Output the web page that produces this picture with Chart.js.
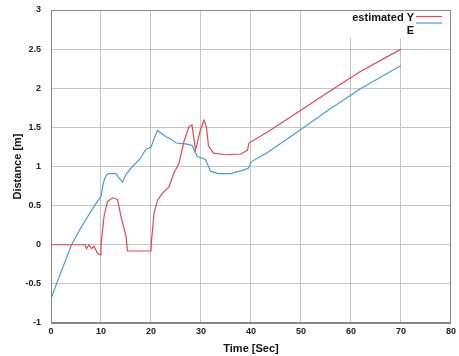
<!DOCTYPE html>
<html>
<head>
<meta charset="utf-8">
<script src="https://cdn.jsdelivr.net/npm/chart.js@4/dist/chart.umd.min.js"></script>
<style>
  html, body { margin: 0; padding: 0; background: #fff; }
  #wrap { width: 459px; height: 356px; }
</style>
</head>
<body>
<div id="wrap"><canvas id="chart" width="459" height="356"></canvas></div>
<script>
// estimated Y (red)
const estTime = [0, 6.8, 7.1, 7.6, 8.1, 8.6, 9.3, 9.9, 10, 10.6, 11.3, 12.3, 13.3, 14, 15, 15.3, 20, 20.1, 20.6, 21.3, 22.3, 23.6, 24.6, 25.6, 26.6, 27.6, 28.2, 28.9, 29.9, 30.6, 31.1, 31.5, 32.5, 35, 38, 39.3, 39.6, 43.3, 48.6, 55.2, 61.8, 70];
const estY = [0, 0, -0.05, 0, -0.05, -0.02, -0.11, -0.13, 0, 0.36, 0.55, 0.6, 0.58, 0.36, 0.11, -0.08, -0.08, 0.05, 0.40, 0.57, 0.66, 0.74, 0.92, 1.04, 1.32, 1.51, 1.53, 1.21, 1.47, 1.59, 1.5, 1.26, 1.17, 1.15, 1.16, 1.21, 1.30, 1.44, 1.66, 1.94, 2.21, 2.5];

// E (blue)
const eTime = [0, 1.1, 4.1, 6, 8.7, 10, 10.5, 11, 11.5, 13, 13.5, 14.3, 15, 16.3, 17.7, 19, 20, 21, 21.3, 23, 24.3, 25, 26.9, 28.2, 29.2, 30.9, 31.9, 33.5, 36, 38.8, 39.5, 40, 43.3, 49.9, 55.2, 61.8, 70];
const eY = [-0.69, -0.5, 0, 0.22, 0.5, 0.62, 0.8, 0.88, 0.91, 0.91, 0.86, 0.8, 0.9, 1.0, 1.09, 1.22, 1.25, 1.42, 1.46, 1.38, 1.34, 1.3, 1.29, 1.27, 1.13, 1.09, 0.94, 0.91, 0.91, 0.96, 0.98, 1.06, 1.18, 1.47, 1.71, 1.99, 2.29];

const seriesLabels = ['estimated Y', 'E'];

function toPoints(xs, ys) {
    return xs.map((x, i) => ({ x: x, y: ys[i] }));
}

const tickFont = { family: 'Liberation Sans, Arial, sans-serif', size: 9, weight: 'bold' };
const titleFont = { family: 'Liberation Sans, Arial, sans-serif', size: 11, weight: 'bold' };

// MATLAB-like legend: text right-aligned, line sample on the right, white box
const legendBox = {
    id: 'legendBox',
    afterDatasetsDraw(chart) {
        const { ctx, chartArea } = chart;
        ctx.save();
        ctx.fillStyle = '#fff';
        ctx.fillRect(chartArea.right - 113, chartArea.top + 1, 112, 27);
        ctx.font = 'bold 11px Liberation Sans, Arial, sans-serif';
        ctx.textAlign = 'right';
        ctx.textBaseline = 'middle';
        const textY = [18, 30.5];
        const lineY = [16.5, 23];
        chart.data.datasets.forEach((ds, i) => {
            ctx.fillStyle = '#111';
            ctx.fillText(ds.label, chartArea.right - 37, textY[i]);
            ctx.strokeStyle = ds.borderColor;
            ctx.lineWidth = 1.2;
            ctx.beginPath();
            ctx.moveTo(chartArea.right - 35, lineY[i]);
            ctx.lineTo(chartArea.right - 9, lineY[i]);
            ctx.stroke();
        });
        ctx.restore();
    },
    afterDraw(chart) {
        const { ctx, chartArea } = chart;
        ctx.save();
        ctx.strokeStyle = '#888';
        ctx.lineWidth = 1;
        ctx.strokeRect(chartArea.left + 0.5, chartArea.top + 0.5,
            chartArea.right - chartArea.left - 1, chartArea.bottom - chartArea.top - 1);
        ctx.restore();
    }
};

const ctx = document.getElementById('chart').getContext('2d');

new Chart(ctx, {
    type: 'line',
    data: {
        datasets: [
            {
                label: seriesLabels[0],
                data: toPoints(estTime, estY),
                borderColor: '#e5474f',
                borderWidth: 1.2,
                pointRadius: 0,
                tension: 0,
                fill: false
            },
            {
                label: seriesLabels[1],
                data: toPoints(eTime, eY),
                borderColor: '#4a9ae0',
                borderWidth: 1.2,
                pointRadius: 0,
                tension: 0,
                fill: false
            }
        ]
    },
    options: {
        responsive: false,
        animation: false,
        layout: { padding: { top: 10, right: 6, left: 0, bottom: 0 } },
        scales: {
            x: {
                type: 'linear',
                min: 0,
                max: 80,
                afterFit: (scale) => { scale.height = 33; },
                ticks: { stepSize: 10, font: tickFont, color: '#222', padding: 3, maxRotation: 0 },
                grid: { color: '#c6c6c6', drawTicks: false },
                border: { color: '#888' },
                title: { display: true, text: 'Time [Sec]', font: titleFont, color: '#111', padding: { top: 4, bottom: 0 } }
            },
            y: {
                min: -1,
                max: 3,
                afterFit: (scale) => {
                    scale.width = 51;
                    scale.paddingTop = 0;
                    scale.paddingBottom = 0;
                },
                ticks: {
                    stepSize: 0.5, font: tickFont, color: '#222', padding: 10,
                    callback: (value) => String(value)
                },
                grid: { color: '#c6c6c6', drawTicks: false },
                border: { color: '#888' },
                title: { display: true, text: 'Distance [m]', font: titleFont, color: '#111', padding: { top: 11, bottom: 0 } }
            }
        },
        plugins: {
            legend: { display: false },
            tooltip: { enabled: false }
        }
    },
    plugins: [legendBox]
});
</script>
</body>
</html>
